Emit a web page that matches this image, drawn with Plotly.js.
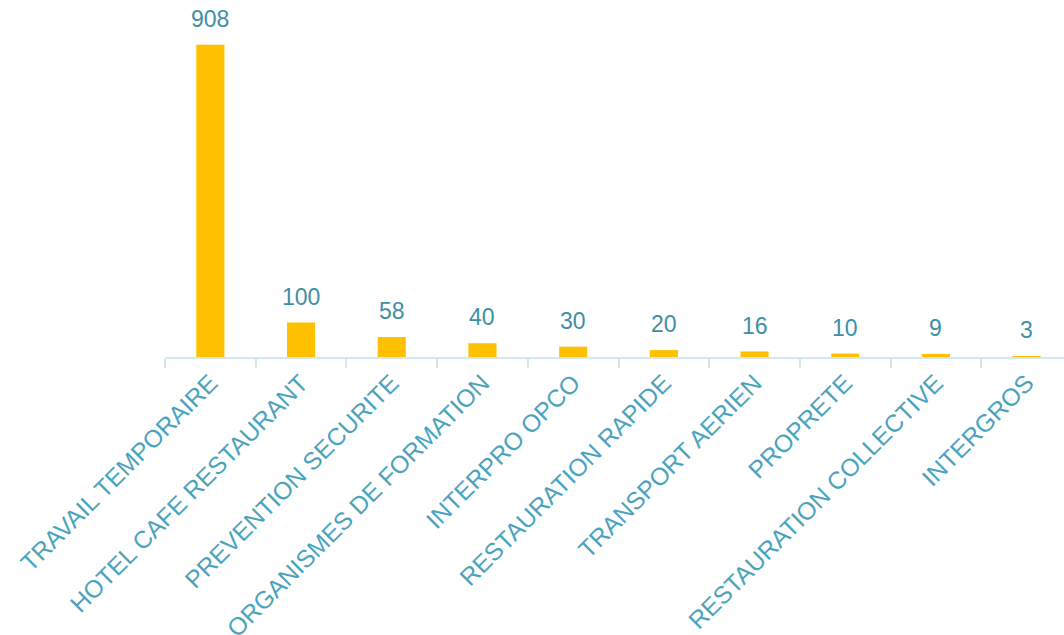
<!DOCTYPE html>
<html><head><meta charset="utf-8">
<script src="https://cdn.plot.ly/plotly-3.0.1.min.js"></script>
<style>html,body{margin:0;padding:0;overflow:hidden;background:#fff}</style>
</head><body>
<div id="chart" style="width:1080px;height:635px"></div>
<script>
var categories = ["TRAVAIL TEMPORAIRE","HOTEL CAFE RESTAURANT","PREVENTION SECURITE","ORGANISMES DE FORMATION","INTERPRO OPCO","RESTAURATION RAPIDE","TRANSPORT AERIEN","PROPRETE","RESTAURATION COLLECTIVE","INTERGROS"];
var values = [908,100,58,40,30,20,16,10,9,3];

var annotations = categories.map(function(c,i){
  return {x:c, y:values[i], text:String(values[i]), showarrow:false, yanchor:'bottom', yshift:11,
    font:{family:'Liberation Sans, Arial, sans-serif', size:23, color:'#3E8FA5'}};
});

Plotly.newPlot('chart',[{
  type:'bar', x:categories, y:values,
  marker:{color:'#FFC000'}, hoverinfo:'skip'
}],{
  width:1080, height:635,
  margin:{l:165, r:8, t:13, b:278},
  bargap:0.69,
  showlegend:false,
  paper_bgcolor:'#fff', plot_bgcolor:'#fff',
  xaxis:{type:'category', tickangle:-45, tickson:'boundaries', ticks:'outside', ticklen:9, tickwidth:2,
    tickcolor:'#D3E8EE', showline:true, linecolor:'#D3E8EE', linewidth:2, showgrid:false,
    tickfont:{family:'Liberation Sans, Arial, sans-serif', size:24.5, color:'#4AA3BC'}},
  yaxis:{range:[0,1000], visible:false, showgrid:false, zeroline:false},
  annotations:annotations
},{staticPlot:true, displayModeBar:false});
</script>
</body></html>
